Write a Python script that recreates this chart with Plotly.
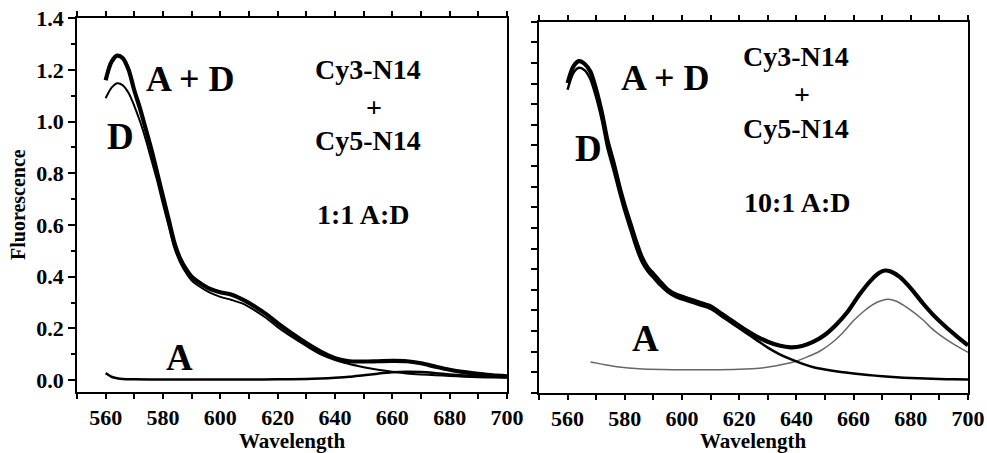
import plotly.graph_objects as go

# ---------------- data ----------------
# Left panel: 1:1 A:D
wl_left_ad = [560, 562, 564, 566, 568, 570, 572, 574, 576, 578, 580, 582, 584, 586, 588, 590,
              593, 596, 600, 604, 608, 612, 616, 620, 625, 630, 635, 640, 645, 650, 655, 660,
              665, 670, 675, 680, 685, 690, 695, 700]
left_ad = [1.16, 1.23, 1.255, 1.245, 1.20, 1.12, 1.05, 0.97, 0.89, 0.80, 0.71, 0.62, 0.53, 0.47,
           0.43, 0.40, 0.375, 0.355, 0.34, 0.33, 0.31, 0.285, 0.255, 0.22, 0.18, 0.143, 0.11,
           0.085, 0.073, 0.072, 0.073, 0.074, 0.073, 0.065, 0.052, 0.040, 0.031, 0.024, 0.018, 0.015]

wl_left_d = wl_left_ad
left_d = [1.09, 1.13, 1.148, 1.14, 1.11, 1.06, 1.00, 0.93, 0.85, 0.77, 0.68, 0.595, 0.51, 0.455,
          0.415, 0.385, 0.36, 0.34, 0.322, 0.31, 0.295, 0.27, 0.24, 0.205, 0.167, 0.132, 0.10,
          0.078, 0.062, 0.05, 0.04, 0.032, 0.026, 0.022, 0.019, 0.016, 0.013, 0.011, 0.01, 0.009]

wl_left_a = [560, 561, 562, 564, 566, 570, 580, 590, 600, 610, 620, 630, 635, 640, 645, 650, 655,
             660, 665, 670, 675, 680, 685, 690, 695, 700]
left_a = [0.027, 0.02, 0.013, 0.007, 0.004, 0.003, 0.002, 0.002, 0.002, 0.002, 0.003, 0.004,
          0.006, 0.009, 0.013, 0.019, 0.025, 0.030, 0.032, 0.031, 0.027, 0.022, 0.018, 0.015,
          0.013, 0.012]

# Right panel: 10:1 A:D
wl_right_ad = [560, 562, 564, 566, 568, 570, 572, 574, 576, 578, 580, 582, 584, 586, 588, 590,
               592, 595, 598, 602, 606, 610, 614, 618, 622, 626, 630, 634, 638, 642, 646, 650,
               654, 658, 662, 666, 669, 671, 673, 676, 680, 684, 688, 692, 696, 700]
right_ad = [1.156, 1.22, 1.241, 1.23, 1.20, 1.13, 1.04, 0.93, 0.85, 0.76, 0.68, 0.61, 0.54, 0.48,
            0.44, 0.415, 0.39, 0.355, 0.335, 0.32, 0.305, 0.29, 0.26, 0.23, 0.20, 0.174, 0.153,
            0.138, 0.131, 0.136, 0.153, 0.18, 0.22, 0.27, 0.335, 0.39, 0.42, 0.429, 0.425, 0.405,
            0.36, 0.305, 0.255, 0.213, 0.175, 0.139]

wl_right_d = [560, 562, 564, 566, 568, 570, 572, 574, 576, 578, 580, 582, 584, 586, 588, 590,
              592, 595, 598, 602, 606, 610, 614, 618, 622, 626, 630, 634, 638, 642, 646, 650,
              655, 660, 665, 670, 675, 680, 685, 690, 695, 700]
right_d = [1.13, 1.195, 1.215, 1.205, 1.17, 1.10, 1.01, 0.90, 0.82, 0.735, 0.655, 0.585, 0.515,
           0.46, 0.425, 0.40, 0.375, 0.345, 0.325, 0.31, 0.295, 0.28, 0.25, 0.22, 0.19, 0.16,
           0.13, 0.105, 0.085, 0.068, 0.054, 0.045, 0.036, 0.03, 0.024, 0.019, 0.015, 0.012,
           0.01, 0.008, 0.007, 0.006]

wl_right_a = [568, 572, 578, 585, 593, 600, 610, 620, 627, 633, 639, 644, 648, 652, 656, 660, 664,
              668, 672, 675, 679, 684, 688, 692, 696, 700]
right_a = [0.074, 0.066, 0.055, 0.048, 0.045, 0.044, 0.044, 0.046, 0.05, 0.06, 0.074, 0.095,
           0.115, 0.145, 0.185, 0.235, 0.275, 0.305, 0.318, 0.31, 0.283, 0.24, 0.198, 0.165,
           0.137, 0.112]

x_major_ticks = [560, 580, 600, 620, 640, 660, 680, 700]
y_major_ticks = [0.0, 0.2, 0.4, 0.6, 0.8, 1.0, 1.2, 1.4]

# ---------------- figure ----------------
W, H = 987, 453
FONT = "Liberation Serif"

def fx(px):
    return px / W

def fy(py):
    return 1 - py / H

fig = go.Figure()

def add(x, y, xa, ya, width, color="black"):
    fig.add_trace(go.Scatter(x=x, y=y, mode="lines", xaxis=xa, yaxis=ya,
                             line=dict(color=color, width=width, shape="spline", smoothing=0.8),
                             showlegend=False, hoverinfo="skip"))

add(wl_left_a, left_a, "x", "y", 2.5)
add(wl_left_d, left_d, "x", "y", 2)
add(wl_left_ad, left_ad, "x", "y", 4.2)

add(wl_right_a, right_a, "x2", "y2", 1.5, "#666666")
add(wl_right_d, right_d, "x2", "y2", 2.5)
add(wl_right_ad, right_ad, "x2", "y2", 4.2)

tickfont = dict(family=FONT, size=22, color="black", weight="bold")

def xaxis(domain, anchor):
    return dict(domain=domain, anchor=anchor, range=[550, 700.01], automargin=False,
                tickvals=x_major_ticks, ticks="outside", ticklen=5, tickwidth=1.5,
                tickcolor="black", minor=dict(dtick=10, tick0=550, ticks="outside",
                                              ticklen=5, tickwidth=1.5, tickcolor="black"),
                showline=True, linecolor="black", linewidth=1.5, mirror="ticks",
                showgrid=False, zeroline=False, tickfont=tickfont)

fig.update_layout(
    width=W, height=H, margin=dict(l=0, r=0, t=0, b=0, autoexpand=False),
    paper_bgcolor="white", plot_bgcolor="white",
    xaxis=xaxis([fx(77), fx(507)], "y"),
    xaxis2=xaxis([fx(539), fx(968)], "y2"),
    yaxis=dict(domain=[fy(392), fy(18)], anchor="x", range=[-0.046, 1.4005], automargin=False,
               tickvals=y_major_ticks, tickformat=".1f", ticks="outside", ticklen=7,
               tickwidth=1.5, tickcolor="black",
               minor=dict(dtick=0.1, tick0=0, ticks="outside", ticklen=4, tickwidth=1.5,
                          tickcolor="black"),
               showline=True, linecolor="black", linewidth=1.5, mirror=True,
               showgrid=False, zeroline=False, tickfont=tickfont),
    yaxis2=dict(domain=[fy(393), fy(21.7)], anchor="x2", range=[-0.046, 1.394], automargin=False,
                tick0=-0.046, dtick=0.08, ticks="outside", ticklen=6, tickwidth=1.5,
                tickcolor="black", showticklabels=False,
                showline=True, linecolor="black", linewidth=1.5, mirror=True,
                showgrid=False, zeroline=False),
)

def ann(text, px, py, size, angle=0):
    fig.add_annotation(text=text, x=fx(px), y=fy(py), xref="paper", yref="paper",
                       xanchor="center", yanchor="middle", showarrow=False, textangle=angle,
                       font=dict(family=FONT, size=size, color="black", weight="bold"))

# axis titles
ann("Fluorescence", 18, 205, 20, -90)
ann("Wavelength", 292, 441, 21)
ann("Wavelength", 753, 441, 21)

# left panel labels
ann("A + D", 190, 79, 36)
ann("D", 120, 136, 37)
ann("A", 179, 357, 37)
ann("Cy3-N14", 368, 69, 28)
ann("+", 374, 107, 28)
ann("Cy5-N14", 368, 140, 28)
ann("1:1 A:D", 363, 214, 28)

# right panel labels
ann("A + D", 665, 78, 36)
ann("D", 588, 148, 37)
ann("A", 645, 338, 37)
ann("Cy3-N14", 796, 57, 28)
ann("+", 802, 95, 28)
ann("Cy5-N14", 796, 128, 28)
ann("10:1 A:D", 797, 202, 28)

fig.write_html(
    "out.html",
    config={"displayModeBar": False},
    post_script="document.body.style.margin='0';document.body.style.overflow='hidden';",
)
